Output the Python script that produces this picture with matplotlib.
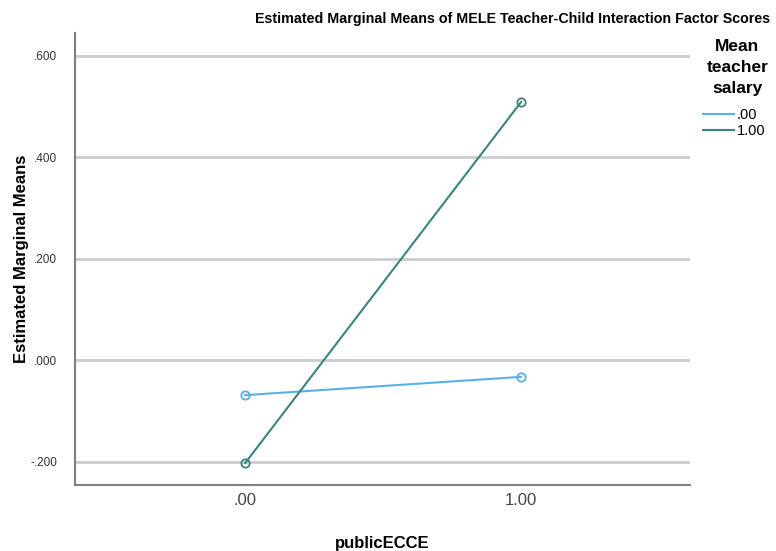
import numpy as np
import matplotlib.pyplot as plt
from matplotlib.lines import Line2D

# data
publicECCE = [0.0, 1.0]
xLabels = ['.00', '1.00']
salaryGroups = ['.00', '1.00']
meansLow = [-0.069, -0.033]
meansHigh = [-0.203, 0.509]
yTicks = [-0.2, 0.0, 0.2, 0.4, 0.6]
yTickLabels = ['-.200', '.000', '.200', '.400', '.600']

plt.rcParams['font.family'] = ['Liberation Sans', 'DejaVu Sans']

colLow = '#5ab0e6'
colHigh = '#3a857c'

fig = plt.figure(figsize=(7.76, 5.51), dpi=100)
ax = fig.add_axes([0.097, 0.12, 0.792, 0.82])

ax.plot(publicECCE, meansLow, color=colLow, lw=1.5, marker='o', ms=6,
        mfc='none', mec=colLow, mew=1.3)
ax.plot(publicECCE, meansHigh, color=colHigh, lw=1.5, marker='o', ms=6,
        mfc='none', mec=colHigh, mew=1.3)

ax.set_xlim(-0.616, 1.612)
ax.set_ylim(-0.246, 0.645)
ax.set_xticks(publicECCE)
ax.set_xticklabels(xLabels, fontsize=12, color='#444444')
ax.set_yticks(yTicks)
ax.set_yticklabels(yTickLabels, fontsize=8.5, color='#333333')
ax.tick_params(length=0, pad=6, axis='x')
ax.tick_params(length=0, pad=13, axis='y')
ax.yaxis.grid(True, color='#cccccc', lw=2)
ax.set_axisbelow(True)
for s in ['top', 'right']:
    ax.spines[s].set_visible(False)
for s in ['left', 'bottom']:
    ax.spines[s].set_color('#808080')
    ax.spines[s].set_linewidth(1.5)

ax.set_xlabel('publicECCE', fontsize=12, fontweight='bold', labelpad=20)
ax.set_ylabel('Estimated Marginal Means', fontsize=12, fontweight='bold', labelpad=1)
fig.text(0.66, 0.965, 'Estimated Marginal Means of MELE Teacher-Child Interaction Factor Scores',
         ha='center', va='center', fontsize=10.3, fontweight='bold')

# legend title drawn on its own so the spacing can follow the reference
fig.text(0.950, 0.930, 'Mean\nteacher\nsalary', ha='center', va='top',
         fontsize=12.5, fontweight='bold', linespacing=1.5, multialignment='center')
handles = [Line2D([], [], color=colLow, lw=1.5), Line2D([], [], color=colHigh, lw=1.5)]
ax.legend(handles, salaryGroups, loc='upper left', bbox_to_anchor=(0.893, 0.823),
          bbox_transform=fig.transFigure, frameon=False, fontsize=10.5, handlelength=2.1,
          handletextpad=0.2, labelspacing=0.15, borderpad=0.2)

fig.savefig('out.png', dpi=100)
